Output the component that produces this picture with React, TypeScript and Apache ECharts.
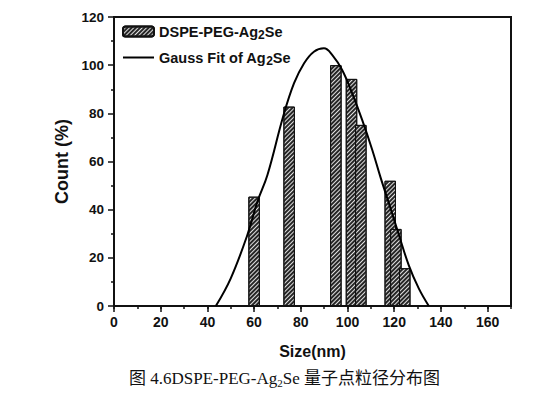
import React, { useEffect, useRef } from "react";
import * as echarts from "echarts";

// Histogram bins: size (nm) and count (%)
const barSizes = [60, 75, 95, 101.7, 105.7, 118.3, 120.7, 124.5];
const barCounts = [45.4, 82.8, 100, 94.3, 75.2, 52, 32, 15.7];

// Gauss fit curve points
const fitSizes = [43.6, 50, 57.1, 61.4, 65.7, 72.4, 77.1, 81.4, 85.6, 89.9, 93.5, 97.7, 102, 106.3, 110.6, 114.1, 118.4, 122, 126.2, 130.5, 134.8];
const fitCounts = [0, 11.5, 29.5, 43.3, 54.4, 78.6, 92.5, 100.8, 105.6, 107, 104.2, 98, 88.3, 77.2, 64.8, 53.5, 40.6, 29.5, 17, 7.3, 0];

const barName = "DSPE-PEG-Ag2Se";
const fitName = "Gauss Fit of Ag2Se";
const xTitle = "Size(nm)";
const yTitle = "Count (%)";

const SANS = '"Liberation Sans", Arial, sans-serif';
const SERIF = '"Liberation Serif", "Times New Roman", "Noto Sans CJK SC", serif';

export default function App() {
  const ref = useRef<HTMLDivElement>(null);
  useEffect(() => {
    if (!ref.current) return;
    const chart = echarts.init(ref.current, undefined, { renderer: "svg" });
    const barData = barSizes.map((x, i) => [x, barCounts[i]]);
    const fitData = fitSizes.map((x, i) => [x, fitCounts[i]]);
    chart.setOption({
      animation: false,
      backgroundColor: "#fff",
      grid: {
        left: 114,
        right: 23,
        top: 17,
        bottom: 91,
        show: true,
        borderColor: "#111",
        borderWidth: 2,
      },
      legend: {
        orient: "vertical",
        left: 122,
        top: 22,
        padding: 0,
        itemWidth: 31,
        itemHeight: 10,
        itemGap: 7,
        data: [
          { name: barName },
          { name: fitName, itemStyle: { color: "rgba(0,0,0,0)", borderWidth: 0, opacity: 0 } },
        ],
        formatter: (name: string) =>
          name === barName ? "{n|DSPE-PEG-Ag}{s|2}{n|Se}" : "{n|Gauss Fit of Ag}{s|2}{n|Se}",
        textStyle: {
          color: "#111",
          fontFamily: SANS,
          fontWeight: "bold",
          fontSize: 14.5,
          rich: {
            n: { fontFamily: SANS, fontWeight: "bold", fontSize: 14.5, color: "#111", lineHeight: 18 },
            s: { fontFamily: SANS, fontWeight: "bold", fontSize: 12, color: "#111", lineHeight: 18, padding: [7, 0, 0, 0] },
          },
        },
      },
      xAxis: [
        {
          type: "value",
          min: 0,
          max: 170,
          interval: 20,
          position: "bottom",
          name: xTitle,
          nameLocation: "middle",
          nameGap: 37,
          nameTextStyle: { fontFamily: SANS, fontWeight: "bold", fontSize: 16, color: "#111" },
          axisLine: { show: true, lineStyle: { color: "#111", width: 2 } },
          axisTick: { show: true, length: 6, lineStyle: { color: "#111", width: 1.5 } },
          axisLabel: { showMaxLabel: false, margin: 9, fontFamily: SANS, fontWeight: "bold", fontSize: 14, color: "#111" },
          splitLine: { show: false },
        },
        {
          type: "value",
          min: 0,
          max: 170,
          interval: 10,
          position: "bottom",
          axisLine: { show: false },
          axisTick: { show: true, length: 3, lineStyle: { color: "#111", width: 1.5 } },
          axisLabel: { show: false },
          splitLine: { show: false },
        },
      ],
      yAxis: {
        type: "value",
        min: 0,
        max: 120,
        interval: 20,
        name: yTitle,
        nameLocation: "middle",
        nameGap: 40,
        nameTextStyle: { fontFamily: SANS, fontWeight: "bold", fontSize: 18, color: "#111" },
        axisLine: { show: true, lineStyle: { color: "#111", width: 2 } },
        axisTick: { show: true, length: 6, lineStyle: { color: "#111", width: 1.5 } },
        minorTick: { show: true, splitNumber: 2, length: 3, lineStyle: { color: "#111", width: 1.5 } },
        axisLabel: { margin: 10, fontFamily: SANS, fontWeight: "bold", fontSize: 13.5, color: "#111" },
        splitLine: { show: false },
      },
      series: [
        {
          name: barName,
          type: "bar",
          xAxisIndex: 0,
          barWidth: 11.5,
          data: barData,
          itemStyle: {
            color: "#e0e0e0",
            borderColor: "#111",
            borderWidth: 1,
            decal: {
              symbol: "rect",
              symbolSize: 1,
              dashArrayX: [1, 0],
              dashArrayY: [1.3, 0.9],
              rotation: -Math.PI / 4,
              color: "#262626",
            },
          },
        },
        {
          name: fitName,
          type: "line",
          xAxisIndex: 0,
          data: fitData,
          smooth: 0.4,
          symbol: "none",
          showSymbol: false,
          lineStyle: { color: "#000", width: 2 },
          itemStyle: { color: "#000" },
          z: 5,
        },
      ],
      graphic: [
        {
          type: "text",
          left: 129,
          top: 369,
          style: {
            text: "{a|图 4.6DSPE-PEG-Ag}{b|2}{a|Se 量子点粒径分布图}",
            rich: {
              a: { fontFamily: SERIF, fontSize: 17, fill: "#111", lineHeight: 22 },
              b: { fontFamily: SERIF, fontSize: 11, fill: "#111", lineHeight: 22, padding: [8, 0, 0, 0] },
            },
          },
        },
      ],
    });
    return () => chart.dispose();
  }, []);
  return (
    <div
      ref={ref}
      style={{ position: "fixed", left: 0, top: 0, width: 534, height: 397, background: "#fff" }}
    />
  );
}
